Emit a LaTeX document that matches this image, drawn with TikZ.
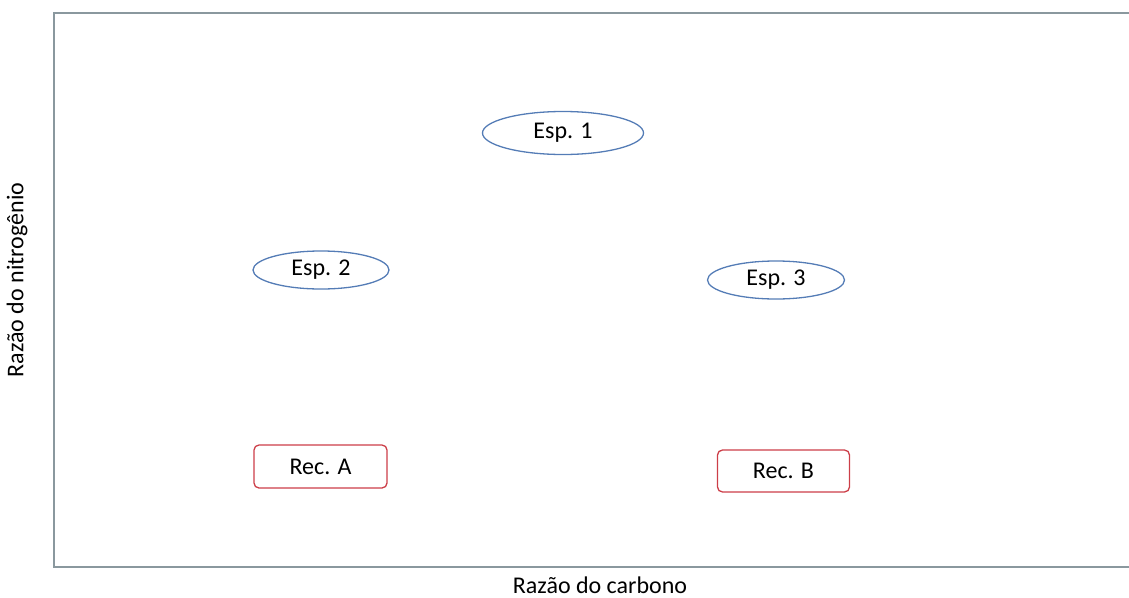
\documentclass[tikz,border=0pt]{standalone}
\usepackage{fontspec}
\setmainfont{Carlito}
\usetikzlibrary{shapes.geometric}

\definecolor{cornice}{RGB}{138,152,158}
\definecolor{blu}{RGB}{84,124,182}
\definecolor{rosso}{RGB}{204,62,72}

\begin{document}
\begin{tikzpicture}[x=1pt,y=-1pt,
font=\fontsize{24}{28}\selectfont,
specie/.style={draw=blu,line width=1.3pt,ellipse,inner sep=0pt},
recettore/.style={draw=rosso,line width=1.3pt,rounded corners=5pt,inner sep=0pt},
asse/.style={text=black}
]
\useasboundingbox (0,0) rectangle (1129,597);
%--
\draw[cornice,line width=2pt] (1129,13) -- (54,13) -- (54,567) -- (1129,567);
%--
\node[asse,rotate=90] (ny) at (17,280){Razão do nitrogênio};
\node[asse] (cx) at (600,585){Razão do carbono};
%--
\node[specie,minimum width=161pt,minimum height=43pt] (e1) at (563,133){Esp. 1};
\node[specie,minimum width=136pt,minimum height=38pt] (e2) at (321,270){Esp. 2};
\node[specie,minimum width=137pt,minimum height=38pt] (e3) at (776,280){Esp. 3};
%--
\node[recettore,minimum width=133pt,minimum height=43pt] (ra) at (320.5,466.5){Rec. A};
\node[recettore,minimum width=132pt,minimum height=42pt] (rb) at (783.5,471){Rec. B};
\end{tikzpicture}
\end{document}
